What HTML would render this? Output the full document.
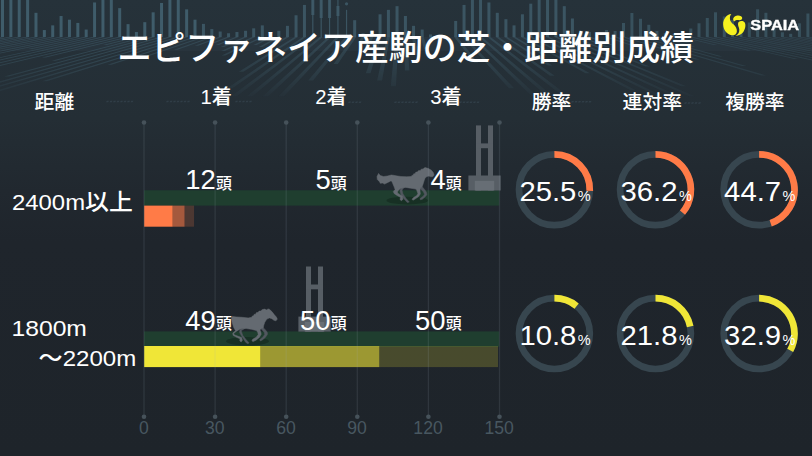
<!DOCTYPE html>
<html lang="ja"><head><meta charset="utf-8"><title>エピファネイア産駒の芝・距離別成績</title>
<style>
html,body{margin:0;padding:0;background:#1f262c}
body{width:812px;height:456px;overflow:hidden;position:relative;font-family:"Liberation Sans","Noto Sans CJK JP",sans-serif}
svg{position:absolute;left:0;top:0;display:block}
svg text{font-family:"Liberation Sans","Noto Sans CJK JP",sans-serif}
.t{position:absolute;color:transparent;white-space:nowrap;line-height:1;font-family:"Liberation Sans","Noto Sans CJK JP",sans-serif;overflow:hidden}
</style></head><body>
<svg width="812" height="456" viewBox="0 0 812 456">
<defs>
<linearGradient id="bg" x1="0" y1="0" x2="0" y2="1"><stop offset="0" stop-color="#26323a"/><stop offset="0.26" stop-color="#242e35"/><stop offset="0.42" stop-color="#21282f"/><stop offset="0.53" stop-color="#1f252c"/><stop offset="1" stop-color="#1e242a"/></linearGradient>
<linearGradient id="floor" x1="0" y1="0" x2="0" y2="1"><stop offset="0" stop-color="#fff"/><stop offset="0.5" stop-color="#999"/><stop offset="1" stop-color="#000"/></linearGradient>
<mask id="fm" maskUnits="userSpaceOnUse" x="0" y="37" width="812" height="66"><rect x="0" y="37" width="812" height="66" fill="url(#floor)"/></mask>
<linearGradient id="floorfade" x1="0" y1="0" x2="0" y2="1"><stop offset="0" stop-color="#222b32" stop-opacity="0"/><stop offset="0.5" stop-color="#222b32" stop-opacity="0.25"/><stop offset="1" stop-color="#222b32" stop-opacity="1"/></linearGradient>
</defs>
<rect width="812" height="456" fill="url(#bg)"/>
<rect x="1.00" y="0.00" width="3" height="37.00" fill="#3f5c6a" opacity="1.0"/>
<rect x="9.37" y="0.00" width="3" height="37.00" fill="#3f5c6a" opacity="1.0"/>
<rect x="17.74" y="0.00" width="3" height="37.00" fill="#3f5c6a" opacity="1.0"/>
<rect x="26.11" y="0.00" width="3" height="37.00" fill="#3f5c6a" opacity="1.0"/>
<rect x="34.48" y="12.81" width="3" height="24.19" fill="#3f5c6a" opacity="1.0"/>
<rect x="42.85" y="30.05" width="3" height="6.95" fill="#3f5c6a" opacity="1.0"/>
<rect x="51.22" y="25.37" width="3" height="11.63" fill="#3f5c6a" opacity="1.0"/>
<rect x="59.59" y="16.01" width="3" height="20.99" fill="#3f5c6a" opacity="1.0"/>
<rect x="67.96" y="19.70" width="3" height="17.30" fill="#3f5c6a" opacity="1.0"/>
<rect x="76.33" y="22.91" width="3" height="14.09" fill="#3f5c6a" opacity="1.0"/>
<rect x="84.70" y="29.56" width="3" height="7.44" fill="#3f5c6a" opacity="1.0"/>
<rect x="93.07" y="2.46" width="3" height="34.54" fill="#3f5c6a" opacity="1.0"/>
<rect x="101.44" y="0.00" width="3" height="37.00" fill="#3f5c6a" opacity="1.0"/>
<rect x="109.81" y="0.00" width="3" height="37.00" fill="#3f5c6a" opacity="1.0"/>
<rect x="118.18" y="8.13" width="3" height="28.87" fill="#3f5c6a" opacity="1.0"/>
<rect x="126.55" y="24.14" width="3" height="12.86" fill="#3f5c6a" opacity="1.0"/>
<rect x="134.92" y="32.02" width="3" height="4.98" fill="#3f5c6a" opacity="1.0"/>
<rect x="143.29" y="22.17" width="3" height="14.83" fill="#3f5c6a" opacity="1.0"/>
<rect x="151.66" y="12.32" width="3" height="24.68" fill="#3f5c6a" opacity="1.0"/>
<rect x="160.03" y="2.96" width="3" height="34.04" fill="#3f5c6a" opacity="1.0"/>
<rect x="168.40" y="0.00" width="3" height="37.00" fill="#3f5c6a" opacity="1.0"/>
<rect x="176.77" y="0.00" width="3" height="37.00" fill="#3f5c6a" opacity="1.0"/>
<rect x="185.14" y="9.36" width="3" height="27.64" fill="#3f5c6a" opacity="1.0"/>
<rect x="193.51" y="19.70" width="3" height="17.30" fill="#3f5c6a" opacity="1.0"/>
<rect x="201.95" y="23.89" width="3" height="13.11" fill="#3f5c6a" opacity="0.85"/>
<rect x="210.32" y="29.06" width="3" height="7.94" fill="#3f5c6a" opacity="0.85"/>
<rect x="218.70" y="31.53" width="3" height="5.47" fill="#3f5c6a" opacity="0.85"/>
<rect x="227.07" y="33.25" width="3" height="3.75" fill="#3f5c6a" opacity="0.85"/>
<rect x="235.45" y="32.02" width="3" height="4.98" fill="#3f5c6a" opacity="0.85"/>
<rect x="244.07" y="30.79" width="3" height="6.21" fill="#3f5c6a" opacity="0.85"/>
<rect x="252.19" y="28.33" width="3" height="8.67" fill="#3f5c6a" opacity="0.85"/>
<rect x="260.82" y="25.37" width="3" height="11.63" fill="#3f5c6a" opacity="0.85"/>
<rect x="269.19" y="32.02" width="3" height="4.98" fill="#3f5c6a" opacity="0.85"/>
<rect x="277.32" y="30.79" width="3" height="6.21" fill="#3f5c6a" opacity="0.85"/>
<rect x="285.94" y="25.86" width="3" height="11.14" fill="#3f5c6a" opacity="0.85"/>
<rect x="294.56" y="15.27" width="3" height="21.73" fill="#3f5c6a" opacity="0.85"/>
<rect x="302.93" y="4.93" width="3" height="32.07" fill="#3f5c6a" opacity="0.85"/>
<rect x="312.21" y="0.00" width="1.2" height="37.00" fill="#3f5c6a" opacity="0.85"/>
<rect x="311.31" y="0.00" width="3" height="15.00" fill="#3f5c6a" opacity="0.85"/>
<rect x="320.58" y="0.00" width="1.2" height="37.00" fill="#3f5c6a" opacity="0.85"/>
<rect x="319.68" y="0.00" width="3" height="18.00" fill="#3f5c6a" opacity="0.85"/>
<rect x="328.96" y="0.00" width="1.2" height="37.00" fill="#3f5c6a" opacity="0.85"/>
<rect x="328.06" y="0.00" width="3" height="18.00" fill="#3f5c6a" opacity="0.85"/>
<rect x="337.33" y="0.00" width="1.2" height="37.00" fill="#3f5c6a" opacity="0.85"/>
<rect x="336.43" y="6.00" width="3" height="10.00" fill="#3f5c6a" opacity="0.85"/>
<rect x="345.95" y="9.85" width="1.2" height="27.15" fill="#3f5c6a" opacity="0.85"/>
<circle cx="346.55" cy="3.8" r="1.6" fill="#3f5c6a" opacity="0.85"/>
<rect x="353.18" y="20.20" width="3" height="16.80" fill="#3f5c6a" opacity="0.85"/>
<rect x="361.55" y="33.25" width="3" height="3.75" fill="#3f5c6a" opacity="0.85"/>
<rect x="370.17" y="32.02" width="3" height="4.98" fill="#3f5c6a" opacity="0.85"/>
<rect x="378.55" y="14.29" width="3" height="22.71" fill="#3f5c6a" opacity="0.85"/>
<rect x="386.92" y="9.85" width="3" height="27.15" fill="#3f5c6a" opacity="0.85"/>
<rect x="395.54" y="6.16" width="3" height="30.84" fill="#3f5c6a" opacity="0.85"/>
<rect x="403.92" y="16.01" width="3" height="20.99" fill="#3f5c6a" opacity="0.85"/>
<rect x="412.05" y="25.86" width="3" height="11.14" fill="#3f5c6a" opacity="0.85"/>
<rect x="420.67" y="29.56" width="3" height="7.44" fill="#3f5c6a" opacity="0.85"/>
<rect x="429.04" y="34.48" width="3" height="2.52" fill="#3f5c6a" opacity="0.85"/>
<rect x="454.17" y="20.94" width="3" height="16.06" fill="#3f5c6a" opacity="0.85"/>
<rect x="462.54" y="4.93" width="3" height="32.07" fill="#3f5c6a" opacity="0.85"/>
<rect x="470.91" y="0.00" width="3" height="37.00" fill="#3f5c6a" opacity="0.85"/>
<rect x="479.04" y="0.00" width="3" height="37.00" fill="#3f5c6a" opacity="0.85"/>
<rect x="487.42" y="2.46" width="3" height="34.54" fill="#3f5c6a" opacity="0.85"/>
<rect x="495.79" y="12.81" width="3" height="24.19" fill="#3f5c6a" opacity="0.85"/>
<rect x="504.41" y="19.21" width="3" height="17.79" fill="#3f5c6a" opacity="0.85"/>
<rect x="512.54" y="25.37" width="3" height="11.63" fill="#3f5c6a" opacity="0.85"/>
<rect x="520.91" y="14.29" width="3" height="22.71" fill="#3f5c6a" opacity="0.85"/>
<rect x="529.29" y="3.69" width="3" height="33.31" fill="#3f5c6a" opacity="0.85"/>
<rect x="537.66" y="0.00" width="3" height="37.00" fill="#3f5c6a" opacity="0.85"/>
<rect x="546.04" y="0.00" width="3" height="37.00" fill="#3f5c6a" opacity="0.85"/>
<rect x="554.41" y="0.00" width="3" height="37.00" fill="#3f5c6a" opacity="0.85"/>
<rect x="562.79" y="6.16" width="3" height="30.84" fill="#3f5c6a" opacity="0.85"/>
<rect x="570.91" y="18.47" width="3" height="18.53" fill="#3f5c6a" opacity="0.85"/>
<rect x="579.53" y="30.79" width="3" height="6.21" fill="#3f5c6a" opacity="0.85"/>
<rect x="587.91" y="32.02" width="3" height="4.98" fill="#3f5c6a" opacity="0.85"/>
<rect x="605.00" y="30.00" width="3" height="7.00" fill="#3f5c6a" opacity="0.75"/>
<rect x="613.60" y="31.00" width="3" height="6.00" fill="#3f5c6a" opacity="0.75"/>
<rect x="622.00" y="23.00" width="3" height="14.00" fill="#3f5c6a" opacity="0.75"/>
<rect x="630.40" y="13.00" width="3" height="24.00" fill="#3f5c6a" opacity="0.75"/>
<rect x="639.00" y="18.80" width="3" height="18.20" fill="#3f5c6a" opacity="0.75"/>
<rect x="647.30" y="24.80" width="3" height="12.20" fill="#3f5c6a" opacity="0.75"/>
<rect x="655.40" y="31.00" width="3" height="6.00" fill="#3f5c6a" opacity="0.75"/>
<rect x="663.80" y="33.00" width="3" height="4.00" fill="#3f5c6a" opacity="0.75"/>
<rect x="672.40" y="34.00" width="3" height="3.00" fill="#3f5c6a" opacity="0.75"/>
<rect x="680.70" y="32.00" width="3" height="5.00" fill="#3f5c6a" opacity="0.75"/>
<rect x="689.30" y="28.50" width="3" height="8.50" fill="#3f5c6a" opacity="0.75"/>
<rect x="697.50" y="23.30" width="3" height="13.70" fill="#3f5c6a" opacity="0.75"/>
<rect x="705.80" y="18.00" width="3" height="19.00" fill="#3f5c6a" opacity="0.75"/>
<rect x="714.00" y="12.30" width="3" height="24.70" fill="#3f5c6a" opacity="0.75"/>
<rect x="722.80" y="16.50" width="3" height="20.50" fill="#3f5c6a" opacity="0.75"/>
<rect x="731.00" y="20.00" width="3" height="17.00" fill="#3f5c6a" opacity="0.75"/>
<rect x="739.50" y="25.00" width="3" height="12.00" fill="#3f5c6a" opacity="0.75"/>
<rect x="747.80" y="22.50" width="3" height="14.50" fill="#3f5c6a" opacity="0.75"/>
<rect x="756.10" y="9.30" width="3" height="27.70" fill="#3f5c6a" opacity="0.75"/>
<rect x="764.40" y="12.80" width="3" height="24.20" fill="#3f5c6a" opacity="0.75"/>
<rect x="772.60" y="22.50" width="3" height="14.50" fill="#3f5c6a" opacity="0.75"/>
<rect x="780.90" y="32.30" width="3" height="4.70" fill="#3f5c6a" opacity="0.75"/>
<rect x="789.20" y="33.80" width="3" height="3.20" fill="#3f5c6a" opacity="0.75"/>
<rect x="797.90" y="23.30" width="3" height="13.70" fill="#3f5c6a" opacity="0.75"/>
<rect x="806.40" y="13.50" width="3" height="23.50" fill="#3f5c6a" opacity="0.75"/>
<g mask="url(#fm)"><rect x="0" y="37" width="812" height="14" fill="#2b3942" opacity="0.6"/><g fill="#3f5c6a" opacity="0.62"><polygon points="1.0,37.0 4.0,37.0 -347.7,96.2 -353.3,96.2" opacity="1.00"/><polygon points="9.4,37.0 12.4,37.0 -331.9,96.2 -337.6,96.2" opacity="1.00"/><polygon points="17.7,37.0 20.7,37.0 -316.1,96.2 -321.8,96.2" opacity="1.00"/><polygon points="26.1,37.0 29.1,37.0 -300.4,96.2 -306.0,96.2" opacity="1.00"/><polygon points="34.5,37.0 37.5,37.0 -173.1,75.7 -177.8,75.7" opacity="1.00"/><polygon points="42.8,37.0 45.8,37.0 -13.3,48.1 -16.8,48.1" opacity="1.00"/><polygon points="51.2,37.0 54.2,37.0 -42.4,55.6 -46.2,55.6" opacity="1.00"/><polygon points="59.6,37.0 62.6,37.0 -107.5,70.6 -112.0,70.6" opacity="1.00"/><polygon points="68.0,37.0 71.0,37.0 -65.8,64.7 -70.0,64.7" opacity="1.00"/><polygon points="76.3,37.0 79.3,37.0 -29.3,59.5 -33.3,59.5" opacity="1.00"/><polygon points="84.7,37.0 87.7,37.0 31.8,48.9 28.3,48.9" opacity="1.00"/><polygon points="93.1,37.0 96.1,37.0 -156.2,92.3 -161.7,92.3" opacity="1.00"/><polygon points="101.4,37.0 104.4,37.0 -158.5,96.2 -164.1,96.2" opacity="1.00"/><polygon points="109.8,37.0 112.8,37.0 -142.7,96.2 -148.4,96.2" opacity="1.00"/><polygon points="118.2,37.0 121.2,37.0 -72.4,83.2 -77.5,83.2" opacity="1.00"/><polygon points="126.5,37.0 129.5,37.0 45.9,57.6 41.9,57.6" opacity="1.00"/><polygon points="134.9,37.0 137.9,37.0 106.5,45.0 103.2,45.0" opacity="1.00"/><polygon points="143.3,37.0 146.3,37.0 55.7,60.7 51.7,60.7" opacity="1.00"/><polygon points="151.7,37.0 154.7,37.0 8.9,76.5 4.1,76.5" opacity="1.00"/><polygon points="160.0,37.0 163.0,37.0 -31.3,91.5 -36.7,91.5" opacity="1.00"/><polygon points="168.4,37.0 171.4,37.0 -32.4,96.2 -38.0,96.2" opacity="1.00"/><polygon points="176.8,37.0 179.8,37.0 -16.6,96.2 -22.2,96.2" opacity="1.00"/><polygon points="185.1,37.0 188.1,37.0 47.0,81.2 42.0,81.2" opacity="1.00"/><polygon points="193.5,37.0 196.5,37.0 111.6,64.7 107.4,64.7" opacity="1.00"/><polygon points="201.9,37.0 204.9,37.0 143.3,58.0 139.3,58.0" opacity="0.85"/><polygon points="210.3,37.0 213.3,37.0 177.6,49.7 174.0,49.7" opacity="0.85"/><polygon points="218.7,37.0 221.7,37.0 198.1,45.8 194.7,45.8" opacity="0.85"/><polygon points="227.1,37.0 230.1,37.0 214.7,43.0 211.4,43.0" opacity="0.85"/><polygon points="235.4,37.0 238.4,37.0 219.0,45.0 215.6,45.0" opacity="0.85"/><polygon points="244.1,37.0 247.1,37.0 224.1,46.9 220.6,46.9" opacity="0.85"/><polygon points="252.2,37.0 255.2,37.0 224.8,50.9 221.2,50.9" opacity="0.85"/><polygon points="260.8,37.0 263.8,37.0 225.4,55.6 221.6,55.6" opacity="0.85"/><polygon points="269.2,37.0 272.2,37.0 256.8,45.0 253.4,45.0" opacity="0.85"/><polygon points="277.3,37.0 280.3,37.0 262.3,46.9 258.8,46.9" opacity="0.85"/><polygon points="285.9,37.0 288.9,37.0 258.9,54.8 255.1,54.8" opacity="0.85"/><polygon points="294.6,37.0 297.6,37.0 243.4,71.8 238.8,71.8" opacity="0.85"/><polygon points="302.9,37.0 305.9,37.0 232.4,88.3 227.1,88.3" opacity="0.85"/><polygon points="311.3,37.0 314.3,37.0 236.8,96.2 231.2,96.2" opacity="0.85"/><polygon points="319.7,37.0 322.7,37.0 252.6,96.2 246.9,96.2" opacity="0.85"/><polygon points="328.1,37.0 331.1,37.0 268.4,96.2 262.7,96.2" opacity="0.85"/><polygon points="336.4,37.0 339.4,37.0 284.1,96.2 278.5,96.2" opacity="0.85"/><polygon points="345.1,37.0 348.1,37.0 313.1,80.4 308.1,80.4" opacity="0.85"/><polygon points="353.2,37.0 356.2,37.0 337.8,63.9 333.6,63.9" opacity="0.85"/><polygon points="361.6,37.0 364.6,37.0 361.2,43.0 357.9,43.0" opacity="0.85"/><polygon points="370.2,37.0 373.2,37.0 369.7,45.0 366.4,45.0" opacity="0.85"/><polygon points="378.5,37.0 381.5,37.0 370.5,73.3 365.8,73.3" opacity="0.85"/><polygon points="386.9,37.0 389.9,37.0 382.1,80.4 377.1,80.4" opacity="0.85"/><polygon points="395.5,37.0 398.5,37.0 396.0,86.3 390.8,86.3" opacity="0.85"/><polygon points="403.9,37.0 406.9,37.0 409.4,70.6 404.9,70.6" opacity="0.85"/><polygon points="412.0,37.0 415.0,37.0 418.5,54.8 414.7,54.8" opacity="0.85"/><polygon points="420.7,37.0 423.7,37.0 427.5,48.9 424.0,48.9" opacity="0.85"/><polygon points="429.0,37.0 432.0,37.0 433.8,41.0 430.7,41.0" opacity="0.85"/><polygon points="454.2,37.0 457.2,37.0 478.3,62.7 474.2,62.7" opacity="0.85"/><polygon points="462.5,37.0 465.5,37.0 514.2,88.3 508.9,88.3" opacity="0.85"/><polygon points="470.9,37.0 473.9,37.0 537.5,96.2 531.8,96.2" opacity="0.85"/><polygon points="479.0,37.0 482.0,37.0 552.8,96.2 547.1,96.2" opacity="0.85"/><polygon points="487.4,37.0 490.4,37.0 563.3,92.3 557.9,92.3" opacity="0.85"/><polygon points="495.8,37.0 498.8,37.0 554.7,75.7 550.0,75.7" opacity="0.85"/><polygon points="504.4,37.0 507.4,37.0 552.2,65.5 547.9,65.5" opacity="0.85"/><polygon points="512.5,37.0 515.5,37.0 547.1,55.6 543.2,55.6" opacity="0.85"/><polygon points="520.9,37.0 523.9,37.0 590.0,73.3 585.4,73.3" opacity="0.85"/><polygon points="529.3,37.0 532.3,37.0 635.9,90.3 630.5,90.3" opacity="0.85"/><polygon points="537.7,37.0 540.7,37.0 663.2,96.2 657.5,96.2" opacity="0.85"/><polygon points="546.0,37.0 549.0,37.0 679.0,96.2 673.3,96.2" opacity="0.85"/><polygon points="554.4,37.0 557.4,37.0 694.7,96.2 689.1,96.2" opacity="0.85"/><polygon points="562.8,37.0 565.8,37.0 686.4,86.3 681.2,86.3" opacity="0.85"/><polygon points="570.9,37.0 573.9,37.0 650.0,66.6 645.6,66.6" opacity="0.85"/><polygon points="579.5,37.0 582.5,37.0 609.3,46.9 605.9,46.9" opacity="0.85"/><polygon points="587.9,37.0 590.9,37.0 613.4,45.0 610.0,45.0" opacity="0.85"/><polygon points="605.0,37.0 608.0,37.0 642.4,48.2 638.9,48.2" opacity="0.75"/><polygon points="613.6,37.0 616.6,37.0 647.3,46.6 643.9,46.6" opacity="0.75"/><polygon points="622.0,37.0 625.0,37.0 699.6,59.4 695.6,59.4" opacity="0.75"/><polygon points="630.4,37.0 633.4,37.0 766.0,75.4 761.3,75.4" opacity="0.75"/><polygon points="639.0,37.0 642.0,37.0 746.3,66.1 742.0,66.1" opacity="0.75"/><polygon points="647.3,37.0 650.3,37.0 722.6,56.5 718.8,56.5" opacity="0.75"/><polygon points="655.4,37.0 658.4,37.0 695.1,46.6 691.7,46.6" opacity="0.75"/><polygon points="663.8,37.0 666.8,37.0 692.1,43.4 688.8,43.4" opacity="0.75"/><polygon points="672.4,37.0 675.4,37.0 695.0,41.8 691.8,41.8" opacity="0.75"/><polygon points="680.7,37.0 683.7,37.0 717.3,45.0 714.0,45.0" opacity="0.75"/><polygon points="689.3,37.0 692.3,37.0 751.2,50.6 747.6,50.6" opacity="0.75"/><polygon points="697.5,37.0 700.5,37.0 798.2,58.9 794.2,58.9" opacity="0.75"/><polygon points="705.8,37.0 708.8,37.0 848.0,67.4 843.6,67.4" opacity="0.75"/><polygon points="714.0,37.0 717.0,37.0 902.8,76.5 898.0,76.5" opacity="0.75"/><polygon points="722.8,37.0 725.8,37.0 884.3,69.8 879.8,69.8" opacity="0.75"/><polygon points="731.0,37.0 734.0,37.0 868.8,64.2 864.6,64.2" opacity="0.75"/><polygon points="739.5,37.0 742.5,37.0 840.1,56.2 836.2,56.2" opacity="0.75"/><polygon points="747.8,37.0 750.8,37.0 871.6,60.2 867.5,60.2" opacity="0.75"/><polygon points="756.1,37.0 759.1,37.0 995.3,81.3 990.3,81.3" opacity="0.75"/><polygon points="764.4,37.0 767.4,37.0 978.6,75.7 973.8,75.7" opacity="0.75"/><polygon points="772.6,37.0 775.6,37.0 905.0,60.2 900.9,60.2" opacity="0.75"/><polygon points="780.9,37.0 783.9,37.0 826.8,44.5 823.4,44.5" opacity="0.75"/><polygon points="789.2,37.0 792.2,37.0 822.0,42.1 818.8,42.1" opacity="0.75"/><polygon points="797.9,37.0 800.9,37.0 931.4,58.9 927.4,58.9" opacity="0.75"/><polygon points="806.4,37.0 809.4,37.0 1038.0,74.6 1033.3,74.6" opacity="0.75"/></g></g>
<g fill="#33414b" opacity="0.85"><polygon points="106.8,100.7 109.0,100.7 108.2,102.3 106.0,102.3"/><polygon points="110.3,100.7 112.5,100.7 111.7,102.3 109.5,102.3"/><polygon points="113.8,100.7 116.0,100.7 115.2,102.3 113.0,102.3"/><polygon points="117.3,100.7 119.5,100.7 118.7,102.3 116.5,102.3"/><polygon points="120.8,100.7 123.0,100.7 122.2,102.3 120.0,102.3"/><polygon points="124.3,100.7 126.5,100.7 125.7,102.3 123.5,102.3"/><polygon points="127.8,100.7 130.0,100.7 129.2,102.3 127.0,102.3"/><polygon points="131.3,100.7 133.5,100.7 132.7,102.3 130.5,102.3"/><polygon points="166.8,100.7 169.0,100.7 168.2,102.3 166.0,102.3"/><polygon points="170.3,100.7 172.5,100.7 171.7,102.3 169.5,102.3"/><polygon points="173.8,100.7 176.0,100.7 175.2,102.3 173.0,102.3"/><polygon points="177.3,100.7 179.5,100.7 178.7,102.3 176.5,102.3"/><polygon points="180.8,100.7 183.0,100.7 182.2,102.3 180.0,102.3"/><polygon points="184.3,100.7 186.5,100.7 185.7,102.3 183.5,102.3"/><polygon points="187.8,100.7 190.0,100.7 189.2,102.3 187.0,102.3"/><polygon points="235.8,100.7 238.0,100.7 237.2,102.3 235.0,102.3"/><polygon points="239.3,100.7 241.5,100.7 240.7,102.3 238.5,102.3"/><polygon points="242.8,100.7 245.0,100.7 244.2,102.3 242.0,102.3"/><polygon points="246.3,100.7 248.5,100.7 247.7,102.3 245.5,102.3"/><polygon points="249.8,100.7 252.0,100.7 251.2,102.3 249.0,102.3"/><polygon points="348.8,101.5 351.0,101.5 350.2,103.1 348.0,103.1"/><polygon points="352.3,101.5 354.5,101.5 353.7,103.1 351.5,103.1"/><polygon points="355.8,101.5 358.0,101.5 357.2,103.1 355.0,103.1"/><polygon points="359.3,101.5 361.5,101.5 360.7,103.1 358.5,103.1"/><polygon points="394.8,101.5 397.0,101.5 396.2,103.1 394.0,103.1"/><polygon points="398.3,101.5 400.5,101.5 399.7,103.1 397.5,103.1"/><polygon points="401.8,101.5 404.0,101.5 403.2,103.1 401.0,103.1"/><polygon points="405.3,101.5 407.5,101.5 406.7,103.1 404.5,103.1"/><polygon points="408.8,101.5 411.0,101.5 410.2,103.1 408.0,103.1"/><polygon points="412.3,101.5 414.5,101.5 413.7,103.1 411.5,103.1"/><polygon points="415.8,101.5 418.0,101.5 417.2,103.1 415.0,103.1"/><polygon points="459.8,101.5 462.0,101.5 461.2,103.1 459.0,103.1"/><polygon points="463.3,101.5 465.5,101.5 464.7,103.1 462.5,103.1"/><polygon points="466.8,101.5 469.0,101.5 468.2,103.1 466.0,103.1"/><polygon points="470.3,101.5 472.5,101.5 471.7,103.1 469.5,103.1"/><polygon points="473.8,101.5 476.0,101.5 475.2,103.1 473.0,103.1"/><polygon points="477.3,101.5 479.5,101.5 478.7,103.1 476.5,103.1"/><polygon points="571.8,101.0 574.0,101.0 573.2,102.6 571.0,102.6"/><polygon points="575.3,101.0 577.5,101.0 576.7,102.6 574.5,102.6"/><polygon points="578.8,101.0 581.0,101.0 580.2,102.6 578.0,102.6"/><polygon points="582.3,101.0 584.5,101.0 583.7,102.6 581.5,102.6"/><polygon points="585.8,101.0 588.0,101.0 587.2,102.6 585.0,102.6"/><polygon points="589.3,101.0 591.5,101.0 590.7,102.6 588.5,102.6"/><polygon points="684.8,102.2 687.0,102.2 686.2,103.8 684.0,103.8"/><polygon points="688.3,102.2 690.5,102.2 689.7,103.8 687.5,103.8"/><polygon points="691.8,102.2 694.0,102.2 693.2,103.8 691.0,103.8"/><polygon points="695.3,102.2 697.5,102.2 696.7,103.8 694.5,103.8"/><polygon points="698.8,102.2 701.0,102.2 700.2,103.8 698.0,103.8"/></g>
<rect x="144.00" y="190.30" width="355.30" height="15.3" fill="#1f3e2f"/>
<rect x="144.20" y="205.60" width="28.49" height="21.1" fill="#ff7b47" fill-opacity="1"/>
<rect x="172.69" y="205.60" width="11.87" height="21.1" fill="#ff7b47" fill-opacity="0.6"/>
<rect x="184.57" y="205.60" width="9.50" height="21.1" fill="#ff7b47" fill-opacity="0.2"/>
<rect x="144.00" y="331.40" width="355.30" height="15.3" fill="#1f3e2f"/>
<rect x="144.20" y="346.00" width="116.35" height="21.1" fill="#f0e637" fill-opacity="1"/>
<rect x="260.55" y="346.00" width="118.72" height="21.1" fill="#f0e637" fill-opacity="0.6"/>
<rect x="379.28" y="346.00" width="118.73" height="21.1" fill="#f0e637" fill-opacity="0.2"/>
<g transform="translate(0 0)"><rect x="476" y="125.4" width="5" height="65.1" fill="#575e65"/><rect x="488" y="125.4" width="5" height="65.1" fill="#575e65"/><rect x="476" y="143.4" width="17" height="4.8" fill="#575e65"/><rect x="468.4" y="175.5" width="32.3" height="15" fill="#575e65"/><rect x="474.8" y="180.8" width="19.4" height="9.7" fill="#676e75"/></g>
<g transform="translate(-170 141.1)"><rect x="476" y="125.4" width="5" height="65.1" fill="#575e65"/><rect x="488" y="125.4" width="5" height="65.1" fill="#575e65"/><rect x="476" y="143.4" width="17" height="4.8" fill="#575e65"/><rect x="468.4" y="175.5" width="32.3" height="15" fill="#575e65"/><rect x="474.8" y="180.8" width="19.4" height="9.7" fill="#676e75"/></g>
<ellipse cx="407.3" cy="200.6" rx="20.8" ry="3.9" fill="#173024"/>
<g stroke-linejoin="round" stroke-width="0.5"><polygon points="421.7,186.1 424.6,189.5 426.6,192.4 426.9,194.8 424.7,197.3 422.3,199.3 420.3,199.7 420.0,198.5 423.2,196.2 424.5,194.3 423.5,191.9 420.3,188.8" fill="#51575f" stroke="#51575f"/>
<polygon points="404.3,187.3 402.0,190.0 403.0,193.9 405.9,198.2 409.3,202.1 407.3,202.6 405.2,200.2 401.3,195.4 399.9,191.0 400.6,188.1" fill="#51575f" stroke="#51575f"/>
<polygon points="378.6,173.4 380.2,175.5 383.6,176.5 387.4,176.0 391.3,175.0 393.7,175.3 396.1,175.8 401.0,176.5 406.7,176.7 411.1,176.5 412.1,175.3 413.0,175.5 413.7,173.8 415.0,173.8 415.9,172.1 417.4,172.1 418.3,170.7 420.3,170.5 421.2,169.2 423.2,168.9 424.1,168.0 425.3,167.6 428.5,168.6 431.4,170.2 433.3,172.6 434.1,175.0 433.0,176.5 430.9,176.8 428.9,176.1 427.0,176.5 425.1,177.9 424.1,180.8 423.2,183.7 422.2,186.6 420.3,188.3 420.0,191.0 420.4,193.9 418.4,196.8 415.4,198.8 413.1,200.2 412.0,199.3 413.5,197.6 416.8,195.5 417.9,193.4 416.8,190.6 415.9,189.1 410.6,188.2 405.8,187.4 403.4,187.7 400.6,188.3 397.8,191.1 397.5,192.9 400.1,194.7 402.5,196.2 403.0,199.2 401.5,200.7 400.1,199.7 400.4,197.3 397.0,195.4 394.1,193.5 393.3,191.4 395.1,189.5 394.0,186.6 392.8,183.7 391.8,181.3 390.8,180.9 387.9,182.4 384.5,184.1 382.6,183.1 380.2,183.3 379.7,181.9 377.3,179.5 377.0,176.5" fill="#646a71" stroke="#646a71"/></g>
<ellipse cx="247.5" cy="341.3" rx="21.5" ry="4.2" fill="#173024"/>
<g stroke-linejoin="round" stroke-width="0.5"><polygon points="262.8,327.2 265.3,329.7 267.3,332.3 267.5,334.3 265.4,337.4 262.4,339.9 260.3,340.9 259.7,339.5 262.7,337.2 264.7,334.5 264.2,332.3 261.3,329.0" fill="#51575f" stroke="#51575f"/>
<polygon points="245.2,328.2 241.2,330.7 242.7,335.3 245.8,339.3 249.1,342.9 247.7,343.7 245.6,342.2 242.0,336.8 239.5,332.3 240.0,329.4" fill="#51575f" stroke="#51575f"/>
<polygon points="232.3,316.4 236.1,316.9 242.1,317.3 248.2,317.9 251.7,317.3 252.4,315.9 253.4,316.1 254.2,314.3 255.5,314.3 256.5,312.6 257.9,312.5 259.1,311.1 260.8,310.9 262.3,309.6 264.8,309.1 266.3,309.9 268.2,308.9 269.4,309.3 271.9,311.6 274.2,314.6 276.4,317.1 277.3,319.1 276.0,320.8 273.9,320.3 271.9,318.7 269.4,317.9 266.9,319.1 264.8,322.2 263.8,325.2 263.3,327.7 261.3,328.8 259.9,329.8 260.9,332.3 261.2,334.3 259.4,337.4 256.4,339.9 253.3,341.6 251.9,340.9 252.6,339.3 256.2,337.2 258.2,334.5 257.7,332.3 256.3,330.5 251.2,329.3 246.2,328.5 244.2,328.5 240.2,329.0 236.2,331.4 233.7,333.4 234.2,334.8 238.2,336.3 241.7,337.5 242.4,340.3 241.2,341.9 239.8,340.9 240.0,338.8 236.5,337.3 233.0,335.3 232.8,333.1 235.5,330.7 233.6,327.2 232.1,322.2 231.4,318.1" fill="#646a71" stroke="#646a71"/></g>
<rect x="143.35" y="122.5" width="1.3" height="294.2" fill="#a0b4c3" fill-opacity="0.13"/>
<circle cx="144.00" cy="122.5" r="2.3" fill="#46525a"/>
<circle cx="144.00" cy="416.7" r="2.3" fill="#46525a"/>
<rect x="214.45" y="122.5" width="1.3" height="294.2" fill="#a0b4c3" fill-opacity="0.13"/>
<circle cx="215.10" cy="122.5" r="2.3" fill="#46525a"/>
<circle cx="215.10" cy="416.7" r="2.3" fill="#46525a"/>
<rect x="285.55" y="122.5" width="1.3" height="294.2" fill="#a0b4c3" fill-opacity="0.13"/>
<circle cx="286.20" cy="122.5" r="2.3" fill="#46525a"/>
<circle cx="286.20" cy="416.7" r="2.3" fill="#46525a"/>
<rect x="356.65" y="122.5" width="1.3" height="294.2" fill="#a0b4c3" fill-opacity="0.13"/>
<circle cx="357.30" cy="122.5" r="2.3" fill="#46525a"/>
<circle cx="357.30" cy="416.7" r="2.3" fill="#46525a"/>
<rect x="427.75" y="122.5" width="1.3" height="294.2" fill="#a0b4c3" fill-opacity="0.13"/>
<circle cx="428.40" cy="122.5" r="2.3" fill="#46525a"/>
<circle cx="428.40" cy="416.7" r="2.3" fill="#46525a"/>
<rect x="498.85" y="122.5" width="1.3" height="294.2" fill="#a0b4c3" fill-opacity="0.13"/>
<circle cx="499.50" cy="122.5" r="2.3" fill="#46525a"/>
<circle cx="499.50" cy="416.7" r="2.3" fill="#46525a"/>
<circle cx="554.4" cy="189.75" r="35.4" fill="none" stroke="#37464f" stroke-width="6.7"/>
<path d="M554.4 154.35A35.4 35.4 0 0 1 589.78 190.86" fill="none" stroke="#ff7b47" stroke-width="6.7"/>
<circle cx="655.5" cy="189.75" r="35.4" fill="none" stroke="#37464f" stroke-width="6.7"/>
<path d="M655.5 154.35A35.4 35.4 0 0 1 682.49 212.66" fill="none" stroke="#ff7b47" stroke-width="6.7"/>
<circle cx="759.1" cy="189.75" r="35.4" fill="none" stroke="#37464f" stroke-width="6.7"/>
<path d="M759.1 154.35A35.4 35.4 0 0 1 770.67 223.21" fill="none" stroke="#ff7b47" stroke-width="6.7"/>
<circle cx="554.4" cy="333.6" r="35.4" fill="none" stroke="#37464f" stroke-width="6.7"/>
<path d="M554.4 298.20000000000005A35.4 35.4 0 0 1 576.62 306.04" fill="none" stroke="#f0e637" stroke-width="6.7"/>
<circle cx="655.5" cy="333.6" r="35.4" fill="none" stroke="#37464f" stroke-width="6.7"/>
<path d="M655.5 298.20000000000005A35.4 35.4 0 0 1 690.19 326.53" fill="none" stroke="#f0e637" stroke-width="6.7"/>
<circle cx="759.1" cy="333.6" r="35.4" fill="none" stroke="#37464f" stroke-width="6.7"/>
<path d="M759.1 298.20000000000005A35.4 35.4 0 0 1 790.23 350.46" fill="none" stroke="#f0e637" stroke-width="6.7"/>
<g fill="#f6f11f"><path d="M731.32,13.95 C726.58,14.34 722.96,19.08 723.16,24.47 C723.42,30.53 727.37,34.87 732.37,35.26 C734.61,35.39 736.45,34.08 736.84,31.71 C737.24,29.08 735.66,26.45 733.68,24.61 C731.32,22.50 729.74,20.53 729.87,17.89 C729.93,16.32 730.53,15.00 731.32,13.95Z"/><path d="M733.16,19.61 C732.89,17.63 734.61,15.79 737.43,15.46 C739.87,15.20 742.24,16.18 742.24,17.89 C742.24,19.34 740.79,20.13 739.08,20.13 C737.11,20.00 735.53,20.13 734.08,21.45 C733.55,21.05 733.22,20.39 733.16,19.61Z"/><path d="M738.42,22.37 C740.13,20.66 743.03,20.66 744.54,22.37 C746.12,24.74 745.46,29.21 743.09,32.17 C741.05,34.47 738.42,35.79 735.53,35.66 C737.89,34.74 739.47,32.50 739.34,29.74 C739.21,27.24 737.24,25.53 738.42,22.37Z"/></g>
<g fill="#fff" font-weight="500">
<text x="519.4" y="200.75" font-size="28.4" textLength="57" lengthAdjust="spacingAndGlyphs">25.5</text><text x="577.8" y="201.2" font-size="14.5">%</text>
<text x="620.5" y="200.75" font-size="28.4" textLength="57" lengthAdjust="spacingAndGlyphs">36.2</text><text x="678.9" y="201.2" font-size="14.5">%</text>
<text x="724.1" y="200.75" font-size="28.4" textLength="57" lengthAdjust="spacingAndGlyphs">44.7</text><text x="782.5" y="201.2" font-size="14.5">%</text>
<text x="519.4" y="344.6" font-size="28.4" textLength="57" lengthAdjust="spacingAndGlyphs">10.8</text><text x="577.8" y="345.05" font-size="14.5">%</text>
<text x="620.5" y="344.6" font-size="28.4" textLength="57" lengthAdjust="spacingAndGlyphs">21.8</text><text x="678.9" y="345.05" font-size="14.5">%</text>
<text x="724.1" y="344.6" font-size="28.4" textLength="57" lengthAdjust="spacingAndGlyphs">32.9</text><text x="782.5" y="345.05" font-size="14.5">%</text>
<text x="117.5" y="59.5" font-size="33.8" textLength="576.5" lengthAdjust="spacingAndGlyphs">エピファネイア産駒の芝・距離別成績</text>
<text x="34.6" y="109.1" font-size="19.8">距離</text>
<text x="200.43" y="103.5" font-size="20.3">1着</text>
<text x="315.23" y="103.5" font-size="20.3">2着</text>
<text x="430.33" y="103.5" font-size="20.3">3着</text>
<text x="531.7" y="109.1" font-size="19.8">勝率</text>
<text x="622.6" y="109.1" font-size="19.8">連対率</text>
<text x="725.3" y="109.1" font-size="19.8">複勝率</text>
<text x="12.03" y="210.3" font-size="22.9" textLength="120.8" lengthAdjust="spacingAndGlyphs">2400m以上</text>
<text x="11.45" y="336.4" font-size="22.9" textLength="75.5" lengthAdjust="spacingAndGlyphs">1800m</text>
<text x="38.58" y="365.6" font-size="22.9" textLength="97.6" lengthAdjust="spacingAndGlyphs">〜2200m</text>
<text x="185.21" y="189.4" font-size="27.4">12</text><text x="216" y="188.6" font-size="15.9">頭</text>
<text x="315.53" y="189.4" font-size="27.4">5</text><text x="330.7" y="188.6" font-size="15.9">頭</text>
<text x="430.53" y="189.4" font-size="27.4">4</text><text x="445.7" y="188.6" font-size="15.9">頭</text>
<text x="185.21" y="330.1" font-size="27.4">49</text><text x="216" y="329.3" font-size="15.9">頭</text>
<text x="299.91" y="330.1" font-size="27.4">50</text><text x="330.7" y="329.3" font-size="15.9">頭</text>
<text x="414.91" y="330.1" font-size="27.4">50</text><text x="445.7" y="329.3" font-size="15.9">頭</text>
</g>
<g fill="#485760" font-size="17.6" font-weight="500">
<text x="138.98" y="434.3">0</text>
<text x="205.07" y="434.3">30</text>
<text x="276.17" y="434.3">60</text>
<text x="347.27" y="434.3">90</text>
<text x="413.35" y="434.3">120</text>
<text x="484.45" y="434.3">150</text>
</g>
<g font-family="Liberation Sans, sans-serif" fill="#fff" opacity="0.999"><text x="750.3" y="30.4" font-size="14.8" font-weight="bold" stroke="#fff" stroke-width="0.35" textLength="48.8" lengthAdjust="spacingAndGlyphs">SPAIA</text></g>
</svg>
<div class="t" style="left:519.4px;top:176.8px;font-size:28px">25.5<span style="font-size:16px">%</span></div>
<div class="t" style="left:620.5px;top:176.8px;font-size:28px">36.2<span style="font-size:16px">%</span></div>
<div class="t" style="left:724.1px;top:176.8px;font-size:28px">44.7<span style="font-size:16px">%</span></div>
<div class="t" style="left:519.4px;top:320.6px;font-size:28px">10.8<span style="font-size:16px">%</span></div>
<div class="t" style="left:620.5px;top:320.6px;font-size:28px">21.8<span style="font-size:16px">%</span></div>
<div class="t" style="left:724.1px;top:320.6px;font-size:28px">32.9<span style="font-size:16px">%</span></div>
<div class="t" style="left:118px;top:30px;font-size:33.8px;width:576px">エピファネイア産駒の芝・距離別成績</div>
<div class="t" style="left:34.6px;top:91.7px;font-size:19.8px;width:39.6px">距離</div>
<div class="t" style="left:200.4px;top:85.6px;font-size:20.3px;width:31.9px">1着</div>
<div class="t" style="left:315.2px;top:85.6px;font-size:20.3px;width:31.9px">2着</div>
<div class="t" style="left:430.3px;top:85.6px;font-size:20.3px;width:31.9px">3着</div>
<div class="t" style="left:531.7px;top:91.7px;font-size:19.8px;width:39.6px">勝率</div>
<div class="t" style="left:622.6px;top:91.7px;font-size:19.8px;width:59.4px">連対率</div>
<div class="t" style="left:725.3px;top:91.7px;font-size:19.8px;width:59.4px">複勝率</div>
<div class="t" style="left:12px;top:191px;font-size:22px">2400m以上</div>
<div class="t" style="left:12px;top:317px;font-size:22px">1800m</div>
<div class="t" style="left:39px;top:346px;font-size:22px">〜2200m</div>
<div class="t" style="left:185.2px;top:165.4px;font-size:27px">12<span style="font-size:16px">頭</span></div>
<div class="t" style="left:315.5px;top:165.4px;font-size:27px">5<span style="font-size:16px">頭</span></div>
<div class="t" style="left:430.5px;top:165.4px;font-size:27px">4<span style="font-size:16px">頭</span></div>
<div class="t" style="left:185.2px;top:306.1px;font-size:27px">49<span style="font-size:16px">頭</span></div>
<div class="t" style="left:299.9px;top:306.1px;font-size:27px">50<span style="font-size:16px">頭</span></div>
<div class="t" style="left:414.9px;top:306.1px;font-size:27px">50<span style="font-size:16px">頭</span></div>
<div class="t" style="left:139.0px;top:418.8px;font-size:17.6px;width:10.0px">0</div>
<div class="t" style="left:205.1px;top:418.8px;font-size:17.6px;width:20.1px">30</div>
<div class="t" style="left:276.2px;top:418.8px;font-size:17.6px;width:20.1px">60</div>
<div class="t" style="left:347.3px;top:418.8px;font-size:17.6px;width:20.1px">90</div>
<div class="t" style="left:413.4px;top:418.8px;font-size:17.6px;width:30.1px">120</div>
<div class="t" style="left:484.5px;top:418.8px;font-size:17.6px;width:30.1px">150</div>
</body></html>
